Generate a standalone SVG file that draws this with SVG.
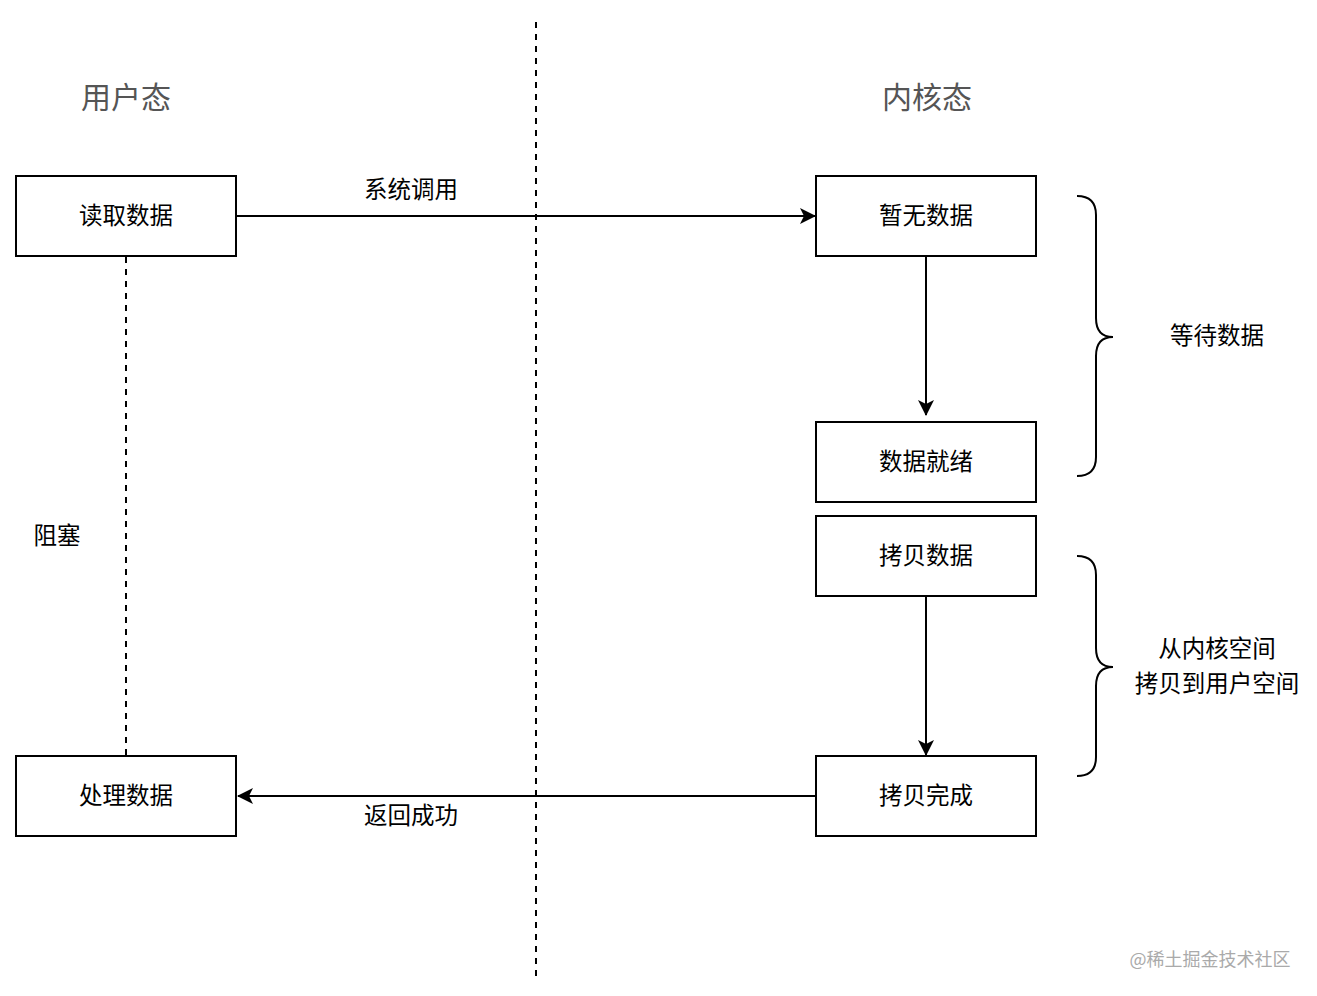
<svg xmlns="http://www.w3.org/2000/svg" width="1317" height="996" viewBox="0 0 1317 996">
<style>
.box{fill:#fff;stroke:#000;stroke-width:2}
.t{font-family:"Noto Sans CJK SC","Noto Sans",sans-serif;font-size:23.5px;fill:#000;text-anchor:middle;dominant-baseline:central}
.h{font-family:"Noto Sans CJK SC","Noto Sans",sans-serif;font-size:30px;fill:#555;text-anchor:middle;dominant-baseline:central}
.ln{fill:none;stroke:#000;stroke-width:2}
.dash{fill:none;stroke:#000;stroke-width:2;stroke-dasharray:6 6}
</style>
<defs>
<marker id="arr" viewBox="0 0 16 16" refX="15" refY="8" markerWidth="16" markerHeight="16" markerUnits="userSpaceOnUse" orient="auto">
<path d="M0,0 L16,8 L0,16 L4,8 Z" fill="#000"/>
</marker>
</defs>
<rect width="1317" height="996" fill="#fff"/>
<g id="connectors">
<line class="dash" x1="536" y1="22" x2="536" y2="978"/>
<line class="dash" x1="126" y1="257" x2="126" y2="756"/>
<line class="ln" x1="237" y1="216" x2="815" y2="216" marker-end="url(#arr)"/>
<line class="ln" x1="926" y1="257" x2="926" y2="415" marker-end="url(#arr)"/>
<line class="ln" x1="926" y1="597" x2="926" y2="755" marker-end="url(#arr)"/>
<line class="ln" x1="816" y1="796" x2="238" y2="796" marker-end="url(#arr)"/>
<path class="ln" d="M1077,196 Q1096,196 1096,215 L1096,318 Q1096,337 1113,337 Q1096,337 1096,356 L1096,457 Q1096,476 1077,476"/>
<path class="ln" d="M1077,556 Q1096,556 1096,575 L1096,648 Q1096,667 1113,667 Q1096,667 1096,686 L1096,757 Q1096,776 1077,776"/>
</g>
<g id="label-user"><text class="h" x="126" y="95">用户态</text></g>
<g id="label-kernel"><text class="h" x="927" y="95">内核态</text></g>
<g id="node-read"><rect class="box" x="16" y="176" width="220" height="80"/><text class="t" x="126" y="214">读取数据</text></g>
<g id="node-nodata"><rect class="box" x="816" y="176" width="220" height="80"/><text class="t" x="926" y="214">暂无数据</text></g>
<g id="node-ready"><rect class="box" x="816" y="422" width="220" height="80"/><text class="t" x="926" y="460">数据就绪</text></g>
<g id="node-copy"><rect class="box" x="816" y="516" width="220" height="80"/><text class="t" x="926" y="554">拷贝数据</text></g>
<g id="node-copydone"><rect class="box" x="816" y="756" width="220" height="80"/><text class="t" x="926" y="794">拷贝完成</text></g>
<g id="node-process"><rect class="box" x="16" y="756" width="220" height="80"/><text class="t" x="126" y="794">处理数据</text></g>
<g id="labels">
<text class="t" x="411" y="188">系统调用</text>
<text class="t" x="411" y="814">返回成功</text>
<text class="t" x="57" y="534">阻塞</text>
<text class="t" x="1217" y="334">等待数据</text>
<text class="t" x="1217" y="647">从内核空间</text>
<text class="t" x="1217" y="682">拷贝到用户空间</text>
</g>
<text x="1210" y="958" style="font-family:'Noto Sans CJK SC','Noto Sans',sans-serif;font-size:18px;fill:#aaa;text-anchor:middle;dominant-baseline:central">@稀土掘金技术社区</text>
</svg>
